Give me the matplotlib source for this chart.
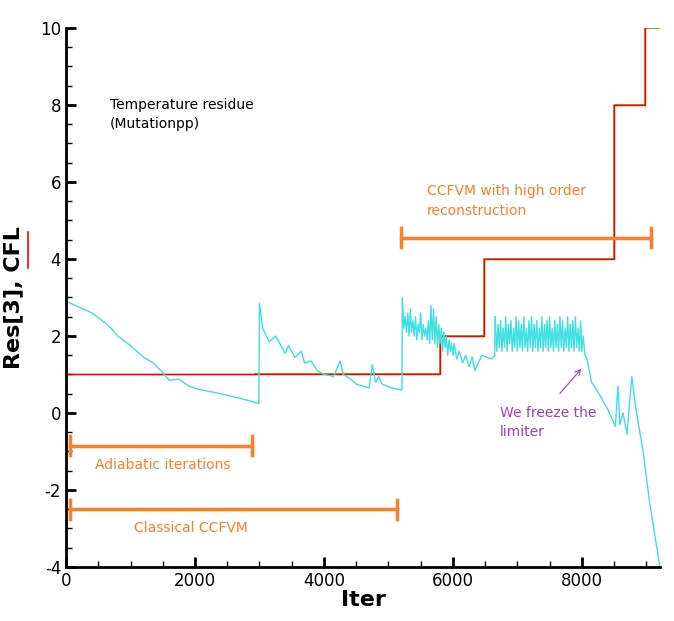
import matplotlib.pyplot as plt
import matplotlib.lines as mlines

plt.rcParams['axes.unicode_minus'] = False

# residue, segment 1 (adiabatic)
res_x1 = [0, 200, 400, 600, 700, 800, 1000, 1200, 1350, 1500, 1600, 1750, 1900, 2100, 2400, 2700, 2990]
res_y1 = [2.9, 2.75, 2.6, 2.35, 2.2, 2.0, 1.75, 1.45, 1.3, 1.05, 0.85, 0.88, 0.7, 0.6, 0.5, 0.38, 0.25]
# segment 2
res_x2 = [2990, 3000, 3050, 3150, 3250, 3400, 3450, 3550, 3650, 3700, 3800, 3900, 4000, 4150,
          4250, 4300, 4400, 4500, 4700, 4750, 4800, 4850, 4900, 5050, 5200]
res_y2 = [0.25, 2.85, 2.2, 1.85, 2.0, 1.55, 1.75, 1.45, 1.6, 1.3, 1.35, 1.1, 1.0, 0.95,
          1.35, 1.0, 0.9, 0.75, 0.65, 1.25, 0.8, 0.95, 0.75, 0.65, 0.6]
# segment 3 (high order, noisy)
res_x3 = [5210, 5215, 5240, 5260, 5280, 5300, 5320, 5340, 5360, 5380, 5400, 5420, 5440, 5460,
          5480, 5500, 5520, 5540, 5560, 5580, 5600, 5620, 5640, 5660, 5680, 5700, 5720, 5740,
          5760, 5780, 5800, 5820, 5840, 5860, 5880, 5900, 5920, 5940, 5960, 5980, 6000, 6020,
          6060, 6100, 6150, 6200, 6250, 6300, 6340, 6380, 6450, 6520, 6600, 6650]
res_y3 = [0.6, 3.0, 2.2, 2.5, 2.1, 2.6, 2.0, 2.7, 2.1, 2.4, 2.0, 2.5, 1.9, 2.3,
          2.1, 2.6, 1.9, 2.3, 2.0, 2.2, 1.9, 2.4, 1.8, 2.8, 1.9, 2.7, 1.8, 2.5,
          1.7, 2.3, 1.8, 2.2, 1.6, 2.1, 1.7, 2.0, 1.5, 1.9, 1.6, 1.8, 1.5, 1.8,
          1.4, 1.6, 1.3, 1.5, 1.2, 1.45, 1.1, 1.25, 1.5, 1.45, 1.4, 1.5]
res_x4 = [6655, 6680, 6700, 6720, 6740, 6760, 6780, 6800, 6820, 6840, 6860, 6880, 6900, 6920,
          6940, 6960, 6980, 7000, 7020, 7040, 7060, 7080, 7100, 7120, 7140, 7160, 7180, 7200,
          7220, 7240, 7260, 7280, 7300, 7320, 7340, 7360, 7380, 7400, 7420, 7440, 7460, 7480,
          7500, 7520, 7540, 7560, 7580, 7600, 7620, 7640, 7660, 7680, 7700, 7720, 7740, 7760,
          7780, 7800, 7820, 7840, 7860, 7880, 7900, 7920, 7940, 7960, 7980, 8000, 8020, 8050,
          8080, 8150, 8250, 8400, 8520, 8560, 8590, 8640, 8700, 8775, 8830, 8870, 8950, 9050, 9210]
res_y4 = [2.5, 1.6, 2.3, 1.7, 2.4, 1.6, 2.2, 1.7, 2.5, 1.6, 2.3, 1.8, 2.4, 1.6,
          2.2, 1.7, 2.5, 1.6, 2.4, 1.7, 2.3, 1.6, 2.5, 1.7, 2.2, 1.6, 2.4, 1.7,
          2.5, 1.6, 2.3, 1.7, 2.4, 1.6, 2.2, 1.7, 2.5, 1.6, 2.3, 1.7, 2.4, 1.6,
          2.5, 1.7, 2.2, 1.6, 2.4, 1.7, 2.3, 1.6, 2.5, 1.7, 2.4, 1.6, 2.2, 1.7,
          2.5, 1.6, 2.3, 1.7, 2.4, 1.6, 2.5, 1.7, 2.2, 1.6, 2.4, 1.6, 2.0, 1.5,
          1.4, 0.8, 0.55, 0.1, -0.35, 0.7, -0.3, 0.0, -0.55, 0.95, 0.2, -0.2, -1.0, -2.3, -4.0]

# CFL steps
cfl_x = [0, 2930, 5800, 6480, 8500, 8980, 9210]
cfl_y = [1, 1, 2, 4, 8, 10, 10]

cyan = '#40E0E0'
orange = '#FF7F27'

fig = plt.figure(figsize=(6.74, 6.21), dpi=100)
ax = fig.add_axes([0.098, 0.087, 0.881, 0.868])

ax.step(cfl_x[1:], cfl_y[1:], where='post', color='#8B8B00', lw=1.2)
ax.step(cfl_x[:-1], cfl_y[:-1], where='post', color='red', lw=1.0)
ax.plot([cfl_x[0], cfl_x[1]], [1, 1], color='red', lw=1.0)
for xs, ys in [(res_x1, res_y1), (res_x2, res_y2), (res_x3, res_y3), (res_x4, res_y4)]:
    ax.plot(xs, ys, color=cyan, lw=1.0)
ax.plot([res_x3[-1], res_x4[0]], [res_y3[-1], res_y4[0]], color=cyan, lw=1.0)

# orange interval bars
bars = [(60, 2880, -0.85), (60, 5130, -2.5), (5190, 9070, 4.55)]
for x0, x1, y in bars:
    ax.plot([x0, x1], [y, y], color=orange, lw=2.5)
    ax.plot([x0, x0], [y - 0.25, y + 0.25], color=orange, lw=2.5)
    ax.plot([x1, x1], [y - 0.25, y + 0.25], color=orange, lw=2.5)

ax.text(450, -1.45, 'Adiabatic iterations', color=orange, fontsize=10)
ax.text(1050, -3.1, 'Classical CCFVM', color=orange, fontsize=10)
ax.text(5600, 5.15, 'CCFVM with high order\nreconstruction', color=orange, fontsize=10, linespacing=1.5)
ax.text(680, 7.4, 'Temperature residue\n(Mutationpp)', color='black', fontsize=10, linespacing=1.5)
ax.text(6730, -0.6, 'We freeze the\nlimiter', color='#A040C0', fontsize=10, linespacing=1.5)
ax.annotate('', xy=(8020, 1.2), xytext=(7630, 0.45),
            arrowprops=dict(arrowstyle='->', color='#A040C0', lw=0.8))

ax.set_xlim(0, 9210)
ax.set_ylim(-4, 10)
ax.set_xticks([0, 2000, 4000, 6000, 8000])
ax.set_yticks(range(-4, 11, 2))
ax.set_xticks(range(0, 9200, 500), minor=True)
ax.set_yticks([v * 0.5 for v in range(-8, 21)], minor=True)
ax.tick_params(direction='in', length=7, width=2, labelsize=12)
ax.tick_params(which='minor', direction='in', length=4, width=1)
for s in ['top', 'right']:
    ax.spines[s].set_visible(False)
for s in ['left', 'bottom']:
    ax.spines[s].set_linewidth(2)
ax.set_xlabel('Iter', fontsize=16, fontweight='bold', labelpad=0)
ax.set_ylabel('Res[3], CFL', fontsize=16, fontweight='bold', labelpad=12)
fig.add_artist(mlines.Line2D([0.042, 0.042], [0.568, 0.626], color='red', lw=1.2))

fig.savefig('out.png', dpi=100)
